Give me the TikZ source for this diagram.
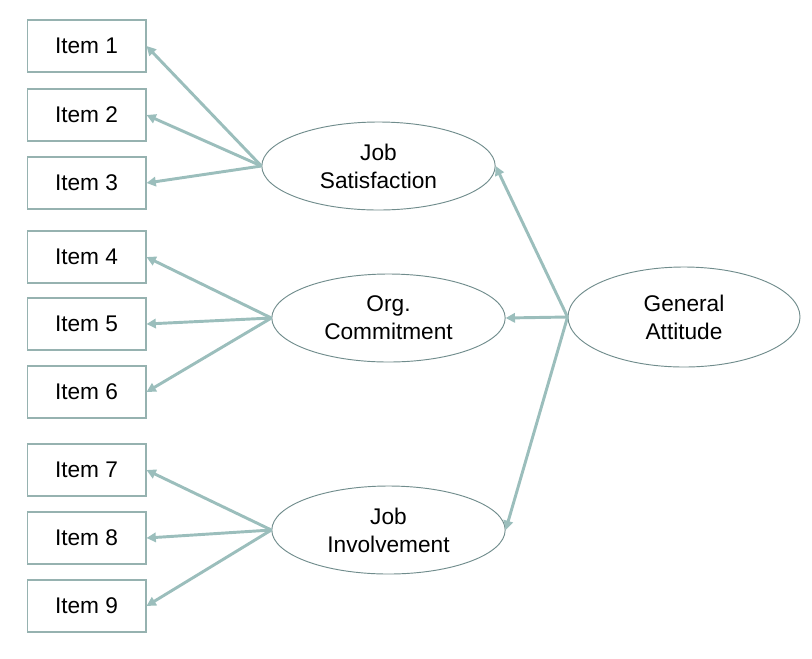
\documentclass[tikz,border=0pt]{standalone}
\usepackage{fontspec}
\setmainfont{Liberation Sans}
\usetikzlibrary{shapes.geometric,arrows.meta}
\definecolor{linkteal}{RGB}{155,190,188}
\definecolor{boxline}{RGB}{150,178,176}
\definecolor{ovalline}{RGB}{112,140,140}
\tikzset{
	item/.style={draw=boxline, line width=1pt, minimum width=89pt, minimum height=39pt, inner sep=0pt, font=\fontsize{17}{21}\selectfont},
	factor/.style={draw=ovalline, ellipse, line width=0.7pt, minimum width=175pt, minimum height=66pt, inner sep=0pt, align=center, font=\fontsize{17}{21}\selectfont},
	load/.style={draw=linkteal, line width=2.2pt, -{Triangle[width=7pt,length=7pt]}}
}
\begin{document}
	\begin{tikzpicture}[x=0.75pt,y=-0.75pt]
		\useasboundingbox (0,0) rectangle (812,658);
		
		\node[item] (i1) at (86.5,46) {Item 1};
		\node[item] (i2) at (86.5,115) {Item 2};
		\node[item] (i3) at (86.5,183) {Item 3};
		\node[item] (i4) at (86.5,257) {Item 4};
		\node[item] (i5) at (86.5,324) {Item 5};
		\node[item] (i6) at (86.5,392) {Item 6};
		\node[item] (i7) at (86.5,470) {Item 7};
		\node[item] (i8) at (86.5,538) {Item 8};
		\node[item] (i9) at (86.5,606) {Item 9};
		
		\node[factor] (js) at (378.5,166) {Job\\Satisfaction};
		\node[factor] (oc) at (388.5,318) {Org.\\Commitment};
		\node[factor] (ji) at (388.5,530) {Job\\Involvement};
		\node[factor, minimum width=174pt, minimum height=75pt] (ga) at (684,317) {General\\Attitude};
		
		\draw[load] (js.west) -- (i1.east);
		\draw[load] (js.west) -- (i2.east);
		\draw[load] (js.west) -- (i3.east);
		
		\draw[load] (oc.west) -- (i4.east);
		\draw[load] (oc.west) -- (i5.east);
		\draw[load] (oc.west) -- (i6.east);
		
		\draw[load] (ji.west) -- (i7.east);
		\draw[load] (ji.west) -- (i8.east);
		\draw[load] (ji.west) -- (i9.east);
		
		\draw[load] (ga.west) -- (js.east);
		\draw[load] (ga.west) -- (oc.east);
		\draw[load] (ga.west) -- (ji.east);
	\end{tikzpicture}
\end{document}
